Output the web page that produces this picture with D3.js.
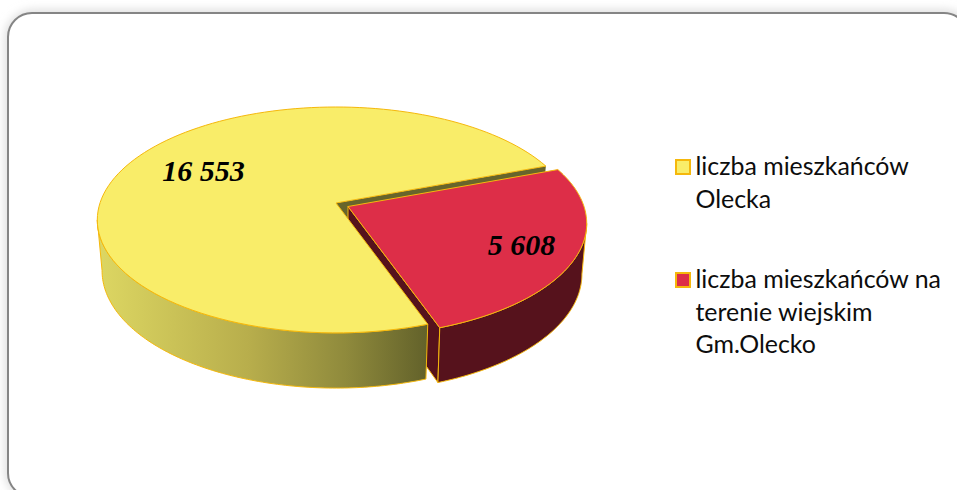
<!DOCTYPE html>
<html><head><meta charset="utf-8">
<script src="https://cdn.jsdelivr.net/npm/d3@7/dist/d3.min.js"></script>
<style>html,body{margin:0;padding:0;background:#fff;overflow:hidden}svg{display:block}</style>
</head><body><svg id="c" width="957" height="490"></svg>
<script>
const categories = ["liczba mieszkańców Olecka", "liczba mieszkańców na terenie wiejskim Gm.Olecko"];
const values = [16553, 5608];
const valueLabels = ["16 553", "5 608"];
const legendLines = [["liczba mieszkańców", "Olecka"], ["liczba mieszkańców na", "terenie wiejskim", "Gm.Olecko"]];

const svg = d3.select("#c");
const defs = svg.append("defs");
const blur = defs.append("filter").attr("id","sh").attr("x","-5%").attr("y","-5%").attr("width","110%").attr("height","110%");
blur.append("feGaussianBlur").attr("stdDeviation",5);
const grad = defs.append("linearGradient").attr("id","yside").attr("gradientUnits","userSpaceOnUse")
  .attr("x1",100).attr("x2",428).attr("y1",0).attr("y2",0);
[[0,"#dcd662"],[0.45,"#b8ae4c"],[0.75,"#8f8a3c"],[1,"#62612a"]].forEach(s=>grad.append("stop").attr("offset",s[0]).attr("stop-color",s[1]));

// card
svg.append("rect").attr("x",5).attr("y",10).attr("width",968).attr("height",490).attr("rx",28)
  .attr("fill","#dcdcdc").attr("filter","url(#sh)");
svg.append("rect").attr("x",8).attr("y",13).attr("width",960).attr("height",484).attr("rx",24)
  .attr("fill","#fff").attr("stroke","#858585").attr("stroke-width",2);

// pie with projective tilt
const cx=336, cy=203, k=0.15, ry0=110.4, rx0=236;
const sx=0.98, sy=1.04, depth=50;
function proj(theta){
  const u=Math.sin(theta), v=-Math.cos(theta), w=1-k*v;
  return [rx0*u/w, ry0*v/w];
}
const deg=Math.PI/180;
const arcs=d3.pie().sort(null).startAngle(160.5*deg).endAngle((160.5+360)*deg)(values);
const offs=[[0,0],[12,3.5]];
const line=d3.line();
const top_=(p,o)=>[cx+o[0]+p[0],cy+o[1]+p[1]];
const bot_=(p,o)=>[cx+o[0]+p[0]*sx,cy+o[1]+p[1]*sy+depth];
const sample=(a,b)=>d3.range(0,121).map(i=>proj(a+(b-a)*i/120));
const gold="#f5b80c";
const silhouette=Math.asin(k);

const g=svg.append("g");
const yA=arcs[0], rA=arcs[1];
const ySample=sample(yA.startAngle,yA.endAngle);
const rSample=sample(rA.startAngle,rA.endAngle);
const zero=[0,0];
const o0=offs[0], o1=offs[1];

// yellow cut wall (seen through the gap)
const yEnd=ySample[ySample.length-1];
g.append("path").attr("d",line([top_(zero,o0),top_(yEnd,o0),bot_(yEnd,o0),bot_(zero,o0)])+"Z")
  .attr("fill","#67652b");
// red inner wall
const rEnd=rSample[rSample.length-1];
g.append("path").attr("d",line([top_(zero,o1),top_(rEnd,o1),bot_(rEnd,o1),bot_(zero,o1)])+"Z")
  .attr("fill","#56121c").attr("stroke",gold).attr("stroke-width",1);
// yellow outer wall, up to the left silhouette
const yFront=sample(yA.startAngle,3*Math.PI/2-silhouette);
g.append("path").attr("d",line(yFront.map(p=>top_(p,o0)).concat(yFront.slice().reverse().map(p=>bot_(p,o0))))+"Z")
  .attr("fill","url(#yside)").attr("stroke",gold).attr("stroke-width",1);
// yellow top
g.append("path").attr("d",line([top_(zero,o0)].concat(ySample.map(p=>top_(p,o0))))+"Z")
  .attr("fill","#f9ed69").attr("stroke",gold).attr("stroke-width",1);
// red outer wall, from the right silhouette
const rFront=sample(2*Math.PI+Math.PI/2+silhouette,rA.endAngle);
g.append("path").attr("d",line(rFront.map(p=>top_(p,o1)).concat(rFront.slice().reverse().map(p=>bot_(p,o1))))+"Z")
  .attr("fill","#56121c").attr("stroke",gold).attr("stroke-width",1);
// red top
g.append("path").attr("d",line([top_(zero,o1)].concat(rSample.map(p=>top_(p,o1))))+"Z")
  .attr("fill","#dd2e48").attr("stroke",gold).attr("stroke-width",1);

// data labels
const lblPos=[[203.5,181],[521.5,255]];
svg.selectAll("text.val").data(valueLabels).join("text").attr("class","val")
  .attr("x",(d,i)=>lblPos[i][0]).attr("y",(d,i)=>lblPos[i][1]).attr("text-anchor","middle")
  .attr("font-family","'Liberation Serif'").attr("font-weight","bold").attr("font-style","italic")
  .attr("font-size",30).attr("fill","#000").text(d=>d);

// legend
const fillC=["#f9ed69","#dd2e48"];
const legY=[175,288];
legendLines.forEach((ls,i)=>{
  svg.append("rect").attr("x",676).attr("y",legY[i]-15).attr("width",14).attr("height",14)
    .attr("fill",fillC[i]).attr("stroke",gold).attr("stroke-width",2);
  ls.forEach((t,j)=>svg.append("text").attr("x",695.5).attr("y",legY[i]+j*32.7)
    .attr("font-family","Lato").attr("font-size",24.9).attr("fill","#0d0d0d").text(t));
});
</script></body></html>
